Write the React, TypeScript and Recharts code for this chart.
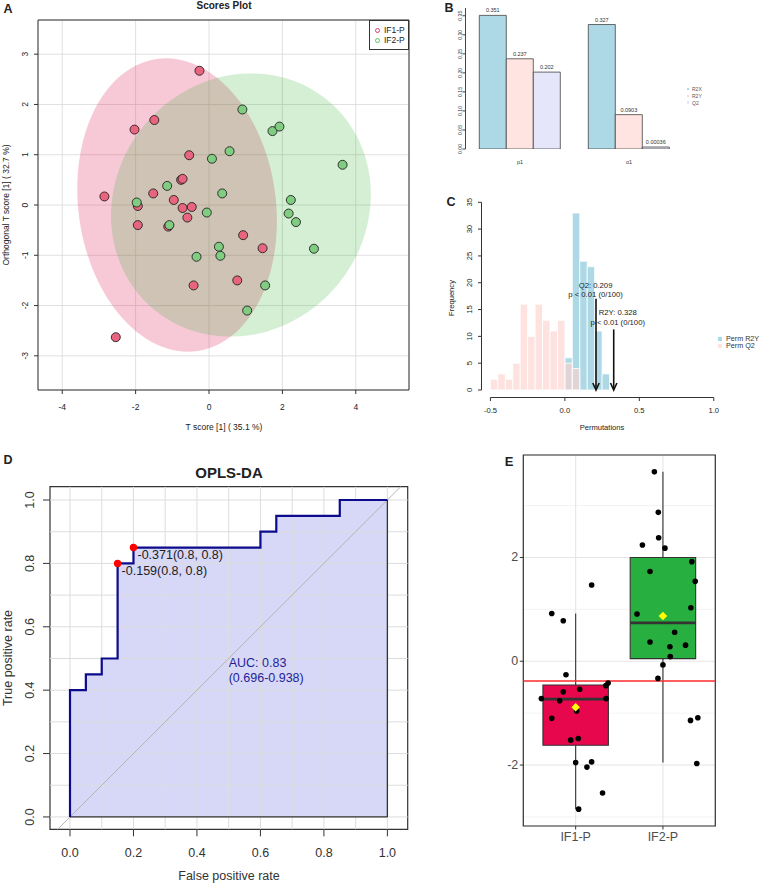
import React from 'react';
import {
  ComposedChart, BarChart, Bar, Scatter, Line, Area, XAxis, YAxis, CartesianGrid,
  ReferenceArea, ReferenceLine, ReferenceDot,
} from 'recharts';

const FONT = '"Liberation Sans", Arial, Helvetica, sans-serif';

// ---------------- Panel A : OPLS-DA scores ----------------
const if1T = [-0.26, -2.03, -1.49, -0.54, -0.76, -0.72, -2.85, -1.52, -0.96, -0.72, -0.47, -0.59, -1.94, -1.94, -1.11, 0.93, 1.46, -0.42, 0.77, -2.54];
const if1O = [2.67, 1.5, 1.69, 0.99, 0.5, 0.52, 0.17, 0.23, 0.1, -0.06, -0.04, -0.25, -0.02, -0.4, -0.43, -0.6, -0.86, -1.6, -1.5, -2.63];
const if2T = [0.91, 1.73, 1.92, 0.56, 0.08, 3.64, -1.14, 0.36, -1.97, 2.23, -0.06, 2.17, 2.37, -1.08, 0.27, 0.31, -0.34, 2.86, 1.53, 1.04];
const if2O = [1.9, 1.47, 1.56, 1.07, 0.92, 0.8, 0.38, 0.23, 0.05, 0.1, -0.15, -0.17, -0.34, -0.4, -0.83, -1.01, -1.03, -0.87, -1.6, -2.1];
const scoreGroups = ['IF1-P', 'IF2-P'];
const if1Ellipse = { cx: -0.87, cy: 0, a: 2.72, b: 2.9, c: -0.32 };
const if2Ellipse = { cx: 0.87, cy: 0, a: 3.54, b: 2.61, c: 0.21 };
const aXDomain = [-4.66, 5.45];
const aYDomain = [-3.68, 3.68];
const aXTicks = [-4, -2, 0, 2, 4];
const aYTicks = [-3, -2, -1, 0, 1, 2, 3];

// ---------------- Panel B : model summary ----------------
const bComponents = ['p1', 'o1'];
const bR2X = [0.351, 0.327];
const bR2Y = [0.237, 0.0903];
const bQ2 = [0.202, 0.00036];
const bYTicks = [0, 0.05, 0.1, 0.15, 0.2, 0.25, 0.3, 0.35];

// ---------------- Panel C : permutation test ----------------
const binWidth = 0.05;
const r2yBinStarts = [0, 0.05, 0.1, 0.15, 0.2, 0.25];
const r2yCounts = [6, 33, 24, 23, 11, 3];
const q2BinStarts = [-0.5, -0.45, -0.4, -0.35, -0.3, -0.25, -0.2, -0.15, -0.1, -0.05, 0, 0.05];
const q2Counts = [2, 3, 2, 5, 16, 10, 16, 13, 11, 13, 5, 4];
const permObserved = [0.209, 0.328]; // Q2, R2Y
const permArrowTop = [17, 11.3];
const permLabelX = [0.206, 0.355];
const permLabelY = [18.7, 13.5];
const permLabels = [['Q2: 0.209', 'p < 0.01 (0/100)'], ['R2Y: 0.328', 'p < 0.01 (0/100)']];
const cXTicks = [-0.5, 0, 0.5, 1];
const cYTicks = [0, 5, 10, 15, 20, 25, 30, 35];

// ---------------- Panel D : ROC ----------------
const rocFpr = [0, 0, 0.05, 0.05, 0.1, 0.1, 0.15, 0.15, 0.2, 0.2, 0.6, 0.6, 0.65, 0.65, 0.85, 0.85, 1.0];
const rocTpr = [0, 0.4, 0.4, 0.45, 0.45, 0.5, 0.5, 0.8, 0.8, 0.85, 0.85, 0.9, 0.9, 0.95, 0.95, 1.0, 1.0];
const thrFpr = [0.15, 0.2];
const thrTpr = [0.8, 0.85];
const thrLabels = ['-0.159(0.8, 0.8)', '-0.371(0.8, 0.8)'];
const aucLines = ['AUC: 0.83', '(0.696-0.938)'];
const dTicks = [0, 0.2, 0.4, 0.6, 0.8, 1.0];
const dGrid = [0, 0.1, 0.2, 0.3, 0.4, 0.5, 0.6, 0.7, 0.8, 0.9, 1.0];

// ---------------- Panel E : boxplot ----------------
const eGroups = ['IF1-P', 'IF2-P'];
const eQ1 = [-1.62, 0.05];
const eQ3 = [-0.457, 2.0];
const eMedian = [-0.73, 0.74];
const eWhiskerLow = [-2.85, -1.95];
const eWhiskerHigh = [0.92, 3.65];
const eBoxColors = ['#e6074d', '#27b03f'];
const eCutoff = -0.38;
const if1JitX = [0.726, 0.858, 1.183, 0.889, 0.607, 0.858, 0.817, 1.046, 1.346, 1.372, 1.349, 1.011, 0.726, 0.943, 1.03, 1.0, 1.183, 1.129, 1.308, 1.034];
const if1Val = [0.92, 0.78, 1.47, -0.26, -0.72, -0.59, -0.76, -0.54, -0.47, -0.42, -0.72, -0.96, -1.1, -1.52, -1.49, -1.95, -1.94, -2.04, -2.54, -2.85];
const if2JitX = [1.902, 1.947, 1.951, 1.765, 2.023, 2.331, 1.852, 2.37, 1.703, 2.32, 2.134, 1.852, 2.08, 2.259, 2.084, 2.0, 1.943, 2.316, 2.4, 2.388];
const if2Val = [3.65, 2.87, 2.38, 2.24, 2.18, 1.92, 1.73, 1.54, 0.91, 1.03, 0.56, 0.37, 0.28, 0.31, 0.09, -0.07, -0.33, -1.14, -1.09, -1.97];
const eMajorY = [-2, 0, 2];
const eMinorY = [-3, -1, 1, 3];

// ---------------- helpers ----------------
const zip = (xs: number[], ys: number[]) => xs.map((x, i) => ({ x, y: ys[i] }));
const ELLIPSE_STEPS = 120;
function ellipseOutline(e: { cx: number; cy: number; a: number; b: number; c: number }) {
  const pts: { x: number; y: number }[] = [];
  for (let i = 0; i <= ELLIPSE_STEPS; i++) {
    const t = (2 * Math.PI * i) / ELLIPSE_STEPS;
    pts.push({ x: e.cx + e.a * Math.cos(t), y: e.cy + e.b * Math.sin(t) + e.c * Math.cos(t) });
  }
  return pts;
}
const mean = (v: number[]) => v.reduce((s, x) => s + x, 0) / v.length;

function TickText(props: any) {
  const { x, y, payload, fs = 8, ddx = 0, ddy = 0, rot = 0, anc = 'middle', col = '#222', fmt } = props;
  const v = fmt ? fmt(payload.value) : payload.value;
  const px = x + ddx;
  const py = y + ddy;
  return (
    <text x={px} y={py} textAnchor={anc} dominantBaseline="central" fontSize={fs} fill={col}
      fontFamily={FONT} transform={rot ? `rotate(${rot} ${px} ${py})` : undefined}>{v}</text>
  );
}

function Txt({ x, y, fs, bold, rot, col = '#222', anc = 'middle', children }: any) {
  const tx = anc === 'start' ? '0' : anc === 'end' ? '-100%' : '-50%';
  return (
    <div style={{
      position: 'absolute', left: x, top: y, transform: `translate(${tx}, -50%) rotate(${rot || 0}deg)`,
      fontSize: fs, fontWeight: bold ? 700 : 400, color: col, whiteSpace: 'nowrap', lineHeight: 1, fontFamily: FONT,
    }}>{children}</div>
  );
}

const Sq = ({ x, y, s, c }: any) => (
  <div style={{ position: 'absolute', left: x - s / 2, top: y - s / 2, width: s, height: s, background: c }} />
);

// ---------------- Panel A ----------------
function PanelA() {
  const dot = (fill: string) => (p: any) => (
    <circle cx={p.cx} cy={p.cy} r={4.5} fill={fill} stroke="#222" strokeWidth={0.9} />
  );
  const none = () => <g />;
  return (
    <ComposedChart width={440} height={440} margin={{ top: 20, right: 31, bottom: 20, left: 0 }}>
      <CartesianGrid stroke="#d8d8d8" strokeWidth={0.8} />
      <XAxis type="number" dataKey="x" domain={aXDomain} ticks={aXTicks} allowDataOverflow interval={0} height={30}
        axisLine={false} tickLine={{ stroke: '#333' }} tickSize={4} tickMargin={2} tick={<TickText fs={8.5} ddy={11} />} />
      <YAxis type="number" dataKey="y" domain={aYDomain} ticks={aYTicks} allowDataOverflow interval={0} width={38}
        axisLine={false} tickLine={{ stroke: '#333' }} tickSize={4} tickMargin={2} tick={<TickText fs={8.5} ddx={-7} rot={-90} />} />
      <Scatter data={ellipseOutline(if1Ellipse)} shape={none} lineType="joint" legendType="none"
        line={{ fill: '#e0295d', fillOpacity: 0.25, stroke: 'none' }} isAnimationActive={false} />
      <Scatter data={ellipseOutline(if2Ellipse)} shape={none} lineType="joint" legendType="none"
        line={{ fill: '#2daf2d', fillOpacity: 0.2, stroke: 'none' }} isAnimationActive={false} />
      <Scatter name={scoreGroups[0]} data={zip(if1T, if1O)} shape={dot('#e8647f')} isAnimationActive={false} />
      <Scatter name={scoreGroups[1]} data={zip(if2T, if2O)} shape={dot('#80cc80')} isAnimationActive={false} />
      <ReferenceArea x1={aXDomain[0]} x2={aXDomain[1]} y1={aYDomain[0]} y2={aYDomain[1]} fill="none"
        stroke="#333" strokeWidth={1} ifOverflow="visible" />
    </ComposedChart>
  );
}

// ---------------- Panel B ----------------
function PanelB() {
  const data = bComponents.map((n, i) => ({ name: n, R2X: bR2X[i], R2Y: bR2Y[i], Q2: bQ2[i] }));
  const lbl = (p: any) => (
    <text x={p.x + p.width / 2} y={p.y - 3} textAnchor="middle" fontSize={5.5} fill="#333" fontFamily={FONT}>{String(p.value)}</text>
  );
  const series: [string, string][] = [['R2X', '#add8e6'], ['R2Y', '#ffe4e1'], ['Q2', '#e6e6fa']];
  return (
    <BarChart width={324} height={170} data={data} margin={{ top: 8, right: 80.5, bottom: 0, left: 0 }}
      barCategoryGap={13.8} barGap={0}>
      <XAxis dataKey="name" height={21} axisLine={false} tickLine={false} tickSize={0} tickMargin={0}
        tick={<TickText fs={5.5} ddy={13} col="#333" />} interval={0} />
      <YAxis type="number" domain={[0, 0.3704]} ticks={bYTicks} allowDataOverflow interval={0} width={25.5}
        axisLine={{ stroke: '#444' }} tickLine={{ stroke: '#444' }} tickSize={3} tickMargin={2}
        tick={<TickText fs={5.2} ddx={-0.5} rot={-90} col="#333" fmt={(v: number) => v.toFixed(2)} />} />
      {series.map(([k, c]) => (
        <Bar key={k} dataKey={k} fill={c} stroke="#444" strokeWidth={0.8} minPointSize={2}
          isAnimationActive={false} label={lbl} />
      ))}
    </BarChart>
  );
}

// ---------------- Panel C ----------------
function PanelC() {
  const head = (p: any) => (
    <path d={`M${p.cx - 3.2},${p.cy - 7} L${p.cx},${p.cy} L${p.cx + 3.2},${p.cy - 7}`} fill="none" stroke="#111" strokeWidth={1.6} />
  );
  const textShape = (lines: string[]) => (p: any) => (
    <text x={p.cx} y={p.cy} textAnchor="middle" fontSize={7.7} fill="#222" fontFamily={FONT}>
      <tspan x={p.cx} y={p.cy - 4.6} dominantBaseline="central">{lines[0]}</tspan>
      <tspan x={p.cx} y={p.cy + 4.6} dominantBaseline="central">{lines[1]}</tspan>
    </text>
  );
  return (
    <ComposedChart width={324} height={250} margin={{ top: 24.8, right: 41.3, bottom: 0, left: 0 }}>
      <XAxis type="number" dataKey="x" domain={[-0.56, 1.06]} ticks={cXTicks} allowDataOverflow interval={0} height={22.5}
        axisLine={false} tickLine={{ stroke: '#333' }} tickSize={3.5} tickMargin={2}
        tick={<TickText fs={7.6} ddy={7} fmt={(v: number) => v.toFixed(1)} />} />
      <YAxis type="number" dataKey="y" domain={[-1.4, 36.4]} ticks={cYTicks} allowDataOverflow interval={0} width={41.5}
        axisLine={false} tickLine={{ stroke: '#333' }} tickSize={3.5} tickMargin={2}
        tick={<TickText fs={7.6} ddx={-6} rot={-90} />} />
      {r2yBinStarts.map((s, i) => (
        <ReferenceArea key={'r' + i} x1={s} x2={s + binWidth} y1={0} y2={r2yCounts[i]} fill="#add8e6" fillOpacity={1}
          stroke="#ffffff" strokeWidth={0.8} />
      ))}
      {q2BinStarts.map((s, i) => (
        <ReferenceArea key={'q' + i} x1={s} x2={s + binWidth} y1={0} y2={q2Counts[i]} fill="#fcd3cf" fillOpacity={0.65}
          stroke="#ffffff" strokeWidth={0.8} />
      ))}
      <ReferenceLine segment={[{ x: -0.5, y: -1.4 }, { x: 1.0, y: -1.4 }]} stroke="#333" ifOverflow="visible" />
      <ReferenceLine segment={[{ x: -0.56, y: 0 }, { x: -0.56, y: 35 }]} stroke="#333" ifOverflow="visible" />
      {permObserved.map((v, i) => (
        <ReferenceLine key={'al' + i} segment={[{ x: v, y: permArrowTop[i] }, { x: v, y: 0.2 }]} stroke="#111" strokeWidth={1.6} />
      ))}
      {permObserved.map((v, i) => (
        <ReferenceDot key={'ah' + i} x={v} y={0} shape={head} />
      ))}
      {permLabels.map((l, i) => (
        <ReferenceDot key={'tx' + i} x={permLabelX[i]} y={permLabelY[i]} shape={textShape(l)} />
      ))}
    </ComposedChart>
  );
}

// ---------------- Panel D ----------------
function PanelD() {
  const rocData = zip(rocFpr, rocTpr);
  const thr = thrFpr.map((x, i) => ({ x, y: thrTpr[i], label: thrLabels[i] }));
  const thrShape = (p: any) => (
    <g>
      <circle cx={p.cx} cy={p.cy} r={3.7} fill="#ff0000" />
      <text x={p.cx + 4} y={p.cy + 7.5} dominantBaseline="central" fontSize={12.5} fill="#222" fontFamily={FONT}>
        {(p.payload && p.payload.label) || p.label}
      </text>
    </g>
  );
  const aucShape = (p: any) => (
    <text fontSize={12.5} fill="#1f1f99" fontFamily={FONT}>
      <tspan x={p.cx} y={p.cy} dominantBaseline="central">{aucLines[0]}</tspan>
      <tspan x={p.cx} y={p.cy + 15} dominantBaseline="central">{aucLines[1]}</tspan>
    </text>
  );
  const fmt = (v: number) => v.toFixed(1);
  return (
    <ComposedChart width={420} height={465} data={rocData} margin={{ top: 66.7, right: 12.3, bottom: 25.7, left: 0 }}>
      <XAxis type="number" dataKey="x" domain={[-0.063, 1.064]} ticks={dTicks} allowDataOverflow interval={0} height={30}
        axisLine={false} tickLine={{ stroke: '#333' }} tickSize={7} tickMargin={2}
        tick={<TickText fs={12.5} ddy={15} fmt={fmt} col="#333" />} />
      <YAxis type="number" dataKey="y" domain={[-0.039, 1.042]} ticks={dTicks} allowDataOverflow interval={0} width={50}
        axisLine={false} tickLine={{ stroke: '#333' }} tickSize={7} tickMargin={2}
        tick={<TickText fs={12.5} ddx={-11} rot={-90} fmt={fmt} col="#333" />} />
      {dGrid.map((v) => <ReferenceLine key={'gx' + v} x={v} stroke="#dddddd" />)}
      {dGrid.map((v) => <ReferenceLine key={'gy' + v} y={v} stroke="#dddddd" />)}
      <Area dataKey="y" type="linear" fill="#b0b0f0" fillOpacity={0.5} stroke="none" baseValue={0} isAnimationActive={false} />
      <ReferenceLine segment={[{ x: -0.039, y: -0.039 }, { x: 1.042, y: 1.042 }]} stroke="#b4b4b4" strokeWidth={1} />
      <ReferenceLine segment={[{ x: 0, y: 0 }, { x: 1, y: 0 }]} stroke="#333" strokeWidth={1.3} />
      <ReferenceLine segment={[{ x: 1, y: 0 }, { x: 1, y: 1 }]} stroke="#333" strokeWidth={1.3} />
      <Line dataKey="y" type="linear" stroke="#0b0b8c" strokeWidth={2.2} dot={false} isAnimationActive={false} />
      <Scatter data={thr} shape={thrShape} isAnimationActive={false} />
      <ReferenceDot x={0.5} y={0.485} shape={aucShape} />
      <ReferenceArea x1={-0.063} x2={1.064} y1={-0.039} y2={1.042} fill="none" stroke="#333" strokeWidth={1.2} ifOverflow="visible" />
    </ComposedChart>
  );
}

// ---------------- Panel E ----------------
function PanelE() {
  const groupsX = [1, 2];
  const half = 0.375;
  const means = [mean(if1Val), mean(if2Val)];
  const pts = [...zip(if1JitX, if1Val), ...zip(if2JitX, if2Val)];
  const meanPts = groupsX.map((g, i) => ({ x: g, y: means[i] }));
  const blackDot = (p: any) => <circle cx={p.cx} cy={p.cy} r={2.8} fill="#000" />;
  const diamond = (p: any) => (
    <path d={`M${p.cx},${p.cy - 4.3} L${p.cx + 4.3},${p.cy} L${p.cx},${p.cy + 4.3} L${p.cx - 4.3},${p.cy} Z`} fill="#ffff00" />
  );
  return (
    <ComposedChart width={324} height={465} margin={{ top: 35, right: 48.7, bottom: 34, left: 0 }}>
      <CartesianGrid horizontalValues={eMinorY} vertical={false} stroke="#ededed" strokeWidth={0.6} />
      <CartesianGrid stroke="#e6e6e6" strokeWidth={1.1} />
      <XAxis type="number" dataKey="x" domain={[0.4, 2.6]} ticks={groupsX} allowDataOverflow interval={0} height={25}
        axisLine={false} tickLine={{ stroke: '#333' }} tickSize={3.5} tickMargin={1.5}
        tick={<TickText fs={12.5} ddy={5.7} col="#4d4d4d" fmt={(v: number) => eGroups[v - 1]} />} />
      <YAxis type="number" dataKey="y" domain={[-3.175, 3.975]} ticks={eMajorY} allowDataOverflow interval={0} width={83.3}
        axisLine={false} tickLine={{ stroke: '#333' }} tickSize={3.5} tickMargin={1.5}
        tick={<TickText fs={12.5} anc="end" col="#4d4d4d" />} />
      {groupsX.map((g, i) => (
        <ReferenceLine key={'wh' + i} segment={[{ x: g, y: eQ3[i] }, { x: g, y: eWhiskerHigh[i] }]} stroke="#333" strokeWidth={1.1} />
      ))}
      {groupsX.map((g, i) => (
        <ReferenceLine key={'wl' + i} segment={[{ x: g, y: eWhiskerLow[i] }, { x: g, y: eQ1[i] }]} stroke="#333" strokeWidth={1.1} />
      ))}
      {groupsX.map((g, i) => (
        <ReferenceArea key={'bx' + i} x1={g - half} x2={g + half} y1={eQ1[i]} y2={eQ3[i]} fill={eBoxColors[i]} fillOpacity={1}
          stroke="#333" strokeWidth={1.1} />
      ))}
      {groupsX.map((g, i) => (
        <ReferenceLine key={'md' + i} segment={[{ x: g - half, y: eMedian[i] }, { x: g + half, y: eMedian[i] }]} stroke="#333" strokeWidth={2.6} />
      ))}
      <ReferenceLine y={eCutoff} stroke="#ff2a2a" strokeWidth={1.5} />
      <Scatter data={pts} shape={blackDot} isAnimationActive={false} />
      <Scatter data={meanPts} shape={diamond} isAnimationActive={false} />
      <ReferenceArea x1={0.4} x2={2.6} y1={-3.175} y2={3.975} fill="none" stroke="#333" strokeWidth={1.2} ifOverflow="visible" />
    </ComposedChart>
  );
}

export default function App() {
  return (
    <div style={{ position: 'absolute', left: 0, top: 0, width: 764, height: 885, background: '#fff', overflow: 'hidden', fontFamily: FONT }}>
      <div style={{ position: 'absolute', left: 0, top: 0 }}><PanelA /></div>
      <div style={{ position: 'absolute', left: 440, top: 0 }}><PanelB /></div>
      <div style={{ position: 'absolute', left: 440, top: 170 }}><PanelC /></div>
      <div style={{ position: 'absolute', left: 0, top: 420 }}><PanelD /></div>
      <div style={{ position: 'absolute', left: 440, top: 420 }}><PanelE /></div>

      {/* Panel A texts */}
      <Txt x={8} y={9} fs={12.5} bold>A</Txt>
      <Txt x={224} y={6} fs={10} bold>Scores Plot</Txt>
      <Txt x={224} y={427} fs={8.5}>T score [1] ( 35.1 %)</Txt>
      <Txt x={6} y={205} fs={8.5} rot={-90}>Orthogonal T score [1] ( 32.7 %)</Txt>
      <div style={{ position: 'absolute', left: 369, top: 20, width: 40, height: 30, border: '1px solid #333', background: '#fff', boxSizing: 'border-box' }} />
      <div style={{ position: 'absolute', left: 374.5, top: 27.5, width: 5, height: 5, borderRadius: '50%', border: '1.2px solid #e0406a', boxSizing: 'border-box' }} />
      <div style={{ position: 'absolute', left: 374.5, top: 37.5, width: 5, height: 5, borderRadius: '50%', border: '1.2px solid #5cbf5c', boxSizing: 'border-box' }} />
      <Txt x={384} y={30} fs={8.5} anc="start">{scoreGroups[0]}</Txt>
      <Txt x={384} y={40} fs={8.5} anc="start">{scoreGroups[1]}</Txt>

      {/* Panel B texts */}
      <Txt x={449} y={8} fs={12.5} bold>B</Txt>
      <Sq x={688} y={89} s={2.5} c="#add8e6" />
      <Sq x={688} y={96} s={2.5} c="#ffd9d2" />
      <Sq x={688} y={102.5} s={2.5} c="#e6e6fa" />
      <Txt x={692} y={89} fs={5} anc="start" col="#555">R2X</Txt>
      <Txt x={692} y={96} fs={5} anc="start" col="#555">R2Y</Txt>
      <Txt x={692} y={102.5} fs={5} anc="start" col="#555">Q2</Txt>

      {/* Panel C texts */}
      <Txt x={451} y={202} fs={12.5} bold>C</Txt>
      <Txt x={452} y={298} fs={7.6} rot={-90}>Frequency</Txt>
      <Txt x={602} y={428} fs={7.6}>Permutations</Txt>
      <Sq x={720} y={338.7} s={4} c="#add8e6" />
      <Sq x={720} y={346.3} s={4} c="#fde3e0" />
      <Txt x={726} y={338.7} fs={7.2} anc="start" col="#333">Perm R2Y</Txt>
      <Txt x={726} y={346.3} fs={7.2} anc="start" col="#333">Perm Q2</Txt>

      {/* Panel D texts */}
      <Txt x={8} y={460} fs={12.5} bold>D</Txt>
      <Txt x={229} y={472} fs={15} bold>OPLS-DA</Txt>
      <Txt x={229} y={876} fs={12.5} col="#333">False positive rate</Txt>
      <Txt x={8} y={658} fs={12.5} rot={-90} col="#333">True positive rate</Txt>

      {/* Panel E texts */}
      <Txt x={509} y={461} fs={13} bold>E</Txt>
    </div>
  );
}
